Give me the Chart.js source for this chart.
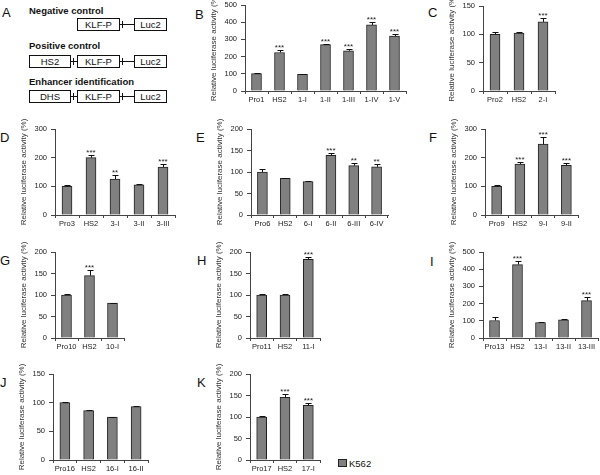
<!DOCTYPE html>
<html lang="en">
<head>
<meta charset="UTF-8">
<title>Luciferase reporter assays</title>
<script src="https://cdn.jsdelivr.net/npm/chart.js"></script>
<style>
  body { margin:0; width:600px; height:475px; position:relative; background:#fff; overflow:hidden;
         font-family:"Liberation Sans", Arial, sans-serif; color:#111; }
  canvas { position:absolute; }
  .letter { position:absolute; font-size:13px; line-height:13px; }
  .ctitle { position:absolute; left:29px; font-size:9.5px; line-height:9.5px; font-weight:bold; white-space:nowrap; }
  .box { position:absolute; height:11px; border:1.2px solid #111; font-size:9.5px; line-height:11px; text-align:center; }
  .link { position:absolute; height:0; border-top:1px solid #111; }
  .tick { position:absolute; width:0; height:7px; border-left:1px solid #111; }
  .legend { position:absolute; left:338px; top:459px; font-size:9.5px; line-height:10px; white-space:nowrap; }
  .legend span { display:inline-block; width:7px; height:6px; background:#808080; border:1px solid #222; margin-right:2px; vertical-align:0px; }
</style>
</head>
<body>
<div class="legend"><span></span><b id="legendText" style="font-weight:normal"></b></div>

<script>
    const seriesLabel = 'K562';
    const yTitle = 'Relative luciferase activity (%)';

    const labelsB = ['Pro1', 'HS2', '1-I', '1-II', '1-III', '1-IV', '1-V'];
    const valuesB = [101, 224, 97, 270, 234, 384, 319];
    const errorsB = [4, 13, 4, 3, 9, 17, 13];
    const sigB = ['', '***', '', '***', '***', '***', '***'];

    const labelsC = ['Pro2', 'HS2', '2-I'];
    const valuesC = [100, 102, 122];
    const errorsC = [5, 3, 6];
    const sigC = ['', '', '***'];

    const labelsD = ['Pro3', 'HS2', '3-I', '3-II', '3-III'];
    const valuesD = [100, 200, 125, 105, 167];
    const errorsD = [3, 8, 16, 2, 10];
    const sigD = ['', '***', '**', '', '***'];

    const labelsE = ['Pro6', 'HS2', '6-I', '6-II', '6-III', '6-IV'];
    const valuesE = [100, 85, 78, 139, 115, 112];
    const errorsE = [6, 2, 2, 5, 6, 6];
    const sigE = ['', '', '', '***', '**', '**'];

    const labelsF = ['Pro9', 'HS2', '9-I', '9-II'];
    const valuesF = [100, 178, 247, 173];
    const errorsF = [5, 6, 25, 9];
    const sigF = ['', '***', '***', '***'];

    const labelsG = ['Pro10', 'HS2', '10-I'];
    const valuesG = [100, 145, 81];
    const errorsG = [2, 13, 1];
    const sigG = ['', '***', ''];

    const labelsH = ['Pro11', 'HS2', '11-I'];
    const valuesH = [100, 100, 183];
    const errorsH = [3, 3, 6];
    const sigH = ['', '', '***'];

    const labelsI = ['Pro13', 'HS2', '13-I', '13-II', '13-III'];
    const valuesI = [102, 427, 90, 106, 217];
    const errorsI = [19, 21, 4, 5, 20];
    const sigI = ['', '***', '', '', '***'];

    const labelsJ = ['Pro16', 'HS2', '16-I', '16-II'];
    const valuesJ = [100, 86, 75, 93];
    const errorsJ = [1, 2, 0, 1];
    const sigJ = ['', '', '', ''];

    const labelsK = ['Pro17', 'HS2', '17-I'];
    const valuesK = [100, 146, 127];
    const errorsK = [3, 7, 5];
    const sigK = ['', '***', '***'];

    // panel geometry: axis x, plot top/bottom, right end, y max and step
    const panels = [
        { id: 'B', labels: labelsB, values: valuesB, errors: errorsB, sig: sigB, max: 500, step: 100, ax: 245, top: 5, bottom: 91, right: 406, lx: 195, ly: 8 },
        { id: 'C', labels: labelsC, values: valuesC, errors: errorsC, sig: sigC, max: 150, step: 50, ax: 483, top: 6, bottom: 91, right: 555, lx: 428, ly: 6 },
        { id: 'D', labels: labelsD, values: valuesD, errors: errorsD, sig: sigD, max: 300, step: 100, ax: 55, top: 129, bottom: 215, right: 175, lx: 0, ly: 131 },
        { id: 'E', labels: labelsE, values: valuesE, errors: errorsE, sig: sigE, max: 200, step: 50, ax: 251, top: 129, bottom: 215, right: 388, lx: 196, ly: 131 },
        { id: 'F', labels: labelsF, values: valuesF, errors: errorsF, sig: sigF, max: 300, step: 100, ax: 485, top: 129, bottom: 215, right: 578, lx: 429, ly: 131 },
        { id: 'G', labels: labelsG, values: valuesG, errors: errorsG, sig: sigG, max: 200, step: 50, ax: 55, top: 252, bottom: 338, right: 124, lx: 0, ly: 254 },
        { id: 'H', labels: labelsH, values: valuesH, errors: errorsH, sig: sigH, max: 200, step: 50, ax: 250, top: 252, bottom: 338, right: 320, lx: 197, ly: 254 },
        { id: 'I', labels: labelsI, values: valuesI, errors: errorsI, sig: sigI, max: 500, step: 100, ax: 483, top: 252, bottom: 338, right: 598, lx: 430, ly: 255 },
        { id: 'J', labels: labelsJ, values: valuesJ, errors: errorsJ, sig: sigJ, max: 150, step: 50, ax: 53, top: 374, bottom: 460, right: 148, lx: 0, ly: 376 },
        { id: 'K', labels: labelsK, values: valuesK, errors: errorsK, sig: sigK, max: 200, step: 50, ax: 250, top: 374, bottom: 460, right: 320, lx: 197, ly: 376 }
    ];

    Chart.defaults.font.family = '"Liberation Sans", Arial, sans-serif';
    Chart.defaults.color = '#222';

    const errorBars = {
        id: 'errorBars',
        afterDatasetsDraw(chart) {
            const ctx = chart.ctx;
            const y = chart.scales.y;
            const ds = chart.data.datasets[0];
            ctx.save();
            ctx.strokeStyle = '#111';
            ctx.lineWidth = 1;
            ctx.fillStyle = '#222';
            ctx.font = '8px "Liberation Sans", Arial, sans-serif';
            ctx.textAlign = 'center';
            ctx.textBaseline = 'alphabetic';
            chart.getDatasetMeta(0).data.forEach((bar, i) => {
                const x = Math.round(bar.x) + 0.5;
                const capY = Math.round(y.getPixelForValue(ds.data[i] + ds.errors[i])) + 0.5;
                ctx.beginPath();
                ctx.moveTo(x, bar.y);
                ctx.lineTo(x, capY);
                ctx.moveTo(x - 3, capY);
                ctx.lineTo(x + 3, capY);
                ctx.stroke();
                if (ds.sig[i]) ctx.fillText(ds.sig[i], bar.x, capY - 1);
            });
            ctx.restore();
        }
    };

    const yWidth = 36, padTop = 10, padRight = 6, xHeight = 16;

    panels.forEach(p => {
        const letter = document.createElement('div');
        letter.className = 'letter';
        letter.textContent = p.id;
        letter.style.left = p.lx + 'px';
        letter.style.top = p.ly + 'px';
        document.body.appendChild(letter);

        const canvas = document.createElement('canvas');
        const w = p.right - p.ax + yWidth + padRight;
        const h = p.bottom - p.top + padTop + xHeight;
        canvas.width = w;
        canvas.height = h;
        canvas.style.left = (p.ax - yWidth) + 'px';
        canvas.style.top = (p.top - padTop) + 'px';
        document.body.appendChild(canvas);

        new Chart(canvas.getContext('2d'), {
            type: 'bar',
            data: {
                labels: p.labels,
                datasets: [{
                    label: seriesLabel,
                    data: p.values,
                    errors: p.errors,
                    sig: p.sig,
                    backgroundColor: '#808080',
                    borderColor: '#222',
                    borderWidth: 1,
                    barThickness: 10
                }]
            },
            options: {
                responsive: false,
                animation: false,
                devicePixelRatio: 1,
                layout: { autoPadding: false, padding: { left: 0, top: padTop, right: padRight, bottom: 0 } },
                plugins: { legend: { display: false }, tooltip: { enabled: false } },
                scales: {
                    x: {
                        afterFit: s => { s.height = xHeight; },
                        grid: { offset: true, drawOnChartArea: false, drawTicks: true, tickLength: 3, color: '#444' },
                        border: { color: '#444' },
                        ticks: { font: { size: 7.5 }, padding: 1, maxRotation: 0, autoSkip: false }
                    },
                    y: {
                        min: 0,
                        max: p.max,
                        afterFit: s => { s.width = yWidth; },
                        grid: { drawOnChartArea: false, drawTicks: true, tickLength: 4, color: '#444' },
                        border: { color: '#444' },
                        ticks: { stepSize: p.step, font: { size: 7.5 }, padding: 4 },
                        title: { display: true, text: yTitle, font: { size: 8 }, padding: 0, color: '#333' }
                    }
                }
            },
            plugins: [errorBars]
        });
    });

    document.getElementById('legendText').textContent = seriesLabel;

    // panel A: reporter constructs
    const letterA = document.createElement('div');
    letterA.className = 'letter';
    letterA.textContent = 'A';
    letterA.style.left = '2px';
    letterA.style.top = '6px';
    document.body.appendChild(letterA);

    const constructs = [
        { title: 'Negative control', ty: 6, by: 18, parts: [null, 'KLF-P', 'Luc2'] },
        { title: 'Positive control', ty: 41, by: 55, parts: ['HS2', 'KLF-P', 'Luc2'] },
        { title: 'Enhancer identification', ty: 77, by: 90, parts: ['DHS', 'KLF-P', 'Luc2'] }
    ];
    const boxX = [[29, 71], [77, 120], [134, 167]];

    constructs.forEach(c => {
        const t = document.createElement('div');
        t.className = 'ctitle';
        t.textContent = c.title;
        t.style.top = c.ty + 'px';
        document.body.appendChild(t);
        c.parts.forEach((name, i) => {
            if (!name) return;
            const b = document.createElement('div');
            b.className = 'box';
            b.textContent = name;
            b.style.left = boxX[i][0] + 'px';
            b.style.top = c.by + 'px';
            b.style.width = (boxX[i][1] - boxX[i][0] - 2) + 'px';
            document.body.appendChild(b);
            if (i > 0 && c.parts[i - 1]) {
                const l = document.createElement('div');
                l.className = 'link';
                l.style.left = boxX[i - 1][1] + 'px';
                l.style.width = (boxX[i][0] - boxX[i - 1][1]) + 'px';
                l.style.top = (c.by + 6) + 'px';
                document.body.appendChild(l);
                const tk = document.createElement('div');
                tk.className = 'tick';
                tk.style.left = (boxX[i - 1][1] + 2) + 'px';
                tk.style.top = (c.by + 3) + 'px';
                document.body.appendChild(tk);
            }
        });
    });
</script>
</body>
</html>
